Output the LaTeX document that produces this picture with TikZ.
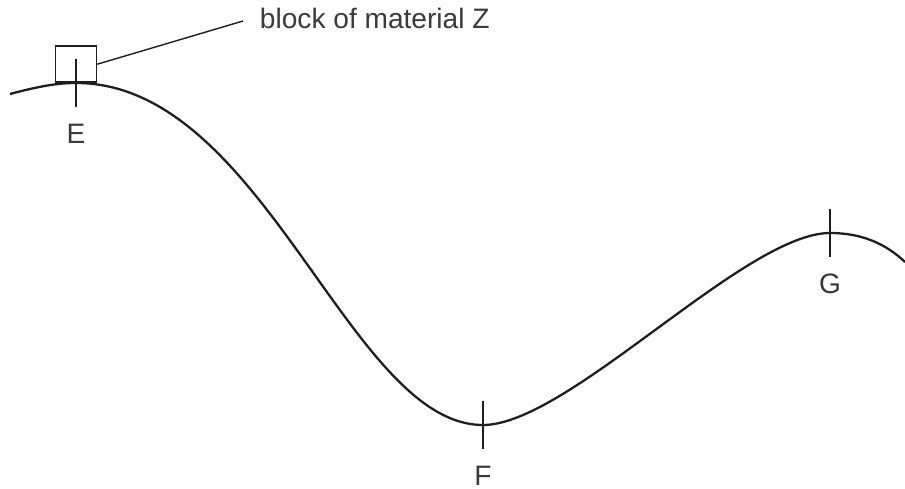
\documentclass[tikz,border=0pt]{standalone}
\usepackage{fontspec}
\setsansfont{Liberation Sans}
\usetikzlibrary{positioning}
\definecolor{cink}{HTML}{1E1E1E}
\definecolor{ctext}{HTML}{3A3A3A}
\tikzset{
  every picture/.style={font=\sffamily, line width=1.1pt},
  track/.style={draw=cink, line width=1.3pt},
  tick/.style={draw=cink, line width=1.4pt},
  blockbox/.style={draw=cink, line width=0.9pt, minimum width=0.82cm, minimum height=0.72cm, inner sep=0pt},
  marker/.style={font=\sffamily\fontsize{16}{19}\selectfont, text=ctext, inner sep=0pt},
  leader/.style={draw=cink, line width=0.8pt},
}

\begin{document}
\begin{tikzpicture}[x=0.02cm, y=-0.02cm]
  \useasboundingbox (0,0) rectangle (905,489);
  \coordinate (E) at (76,83);
  \coordinate (F) at (483,425);
  \coordinate (G) at (830,233);
  \draw[track] (10,94) .. controls (40,86) and (58,83) .. (E)
    .. controls (264,83) and (349,425) .. (F)
    .. controls (568,425) and (745,233) .. (G)
    .. controls (862,233) and (886,244) .. (905,262);
  \foreach \p in {E, F, G} {
    \draw[tick] ([yshift=0.48cm]\p) -- ([yshift=-0.48cm]\p);
    \node[marker] (lbl\p) at ([yshift=-1.02cm]\p) {\p};
  }
  \node[blockbox, anchor=south] (blk) at (E) {};
  \node[marker, anchor=west] (name) at (259,18) {block of material Z};
  \draw[leader] (blk.east) -- ([xshift=-0.32cm, yshift=-0.06cm]name.west);
\end{tikzpicture}
\end{document}
